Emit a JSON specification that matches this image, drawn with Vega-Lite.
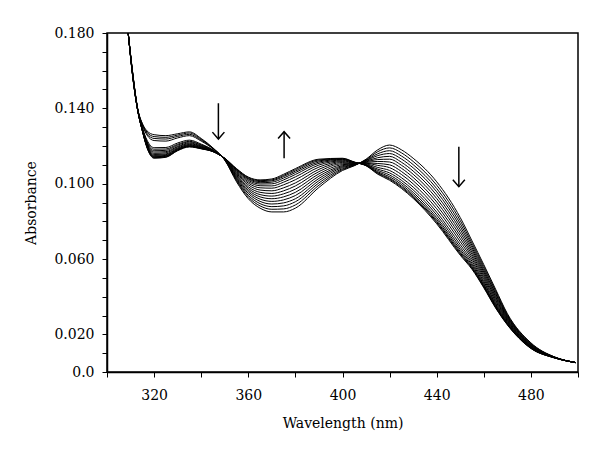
{
"$schema": "https://vega.github.io/schema/vega-lite/v6.json",
"autosize": "none",
"width": 471,
"height": 339,
"padding": {"left": 107, "top": 33, "right": 22, "bottom": 85},
"background": "white",
"config": {
  "view": {"stroke": "black", "strokeWidth": 1.5},
  "axis": {"domainColor": "black", "domainWidth": 1.5, "tickColor": "black", "tickWidth": 1, "tickSize": 5, "labelFont": "DejaVu Serif", "labelFontSize": 14, "labelColor": "black", "titleFont": "DejaVu Serif", "titleFontSize": 14, "titleFontWeight": "normal", "titleColor": "black", "grid": false, "labelOverlap": false, "labelBound": false, "labelFlush": false}
},
"encoding": {
  "x": {"field": "w", "type": "quantitative", "scale": {"domain": [300, 500], "nice": false, "zero": false},
    "axis": {"title": "Wavelength (nm)", "values": [300, 320, 340, 360, 380, 400, 420, 440, 460, 480, 500], "labelExpr": "datum.value % 40 == 0 ? format(datum.value, 'd') : ''", "labelPadding": 11, "titlePadding": 14}},
  "y": {"field": "a", "type": "quantitative", "scale": {"domain": [0, 0.18], "nice": false, "zero": false},
    "axis": {"title": "Absorbance", "values": [0, 0.01, 0.02, 0.03, 0.04, 0.05, 0.06, 0.07, 0.08, 0.09, 0.1, 0.11, 0.12, 0.13, 0.14, 0.15, 0.16, 0.17, 0.18], "labelExpr": "datum.value == 0 ? '0.0' : (round(datum.value * 1000) % 40 == 20 ? format(datum.value, '.3f') : '')", "labelPadding": 8, "titlePadding": 15}}
},
"layer": [
{
  "data": {"values": [
{"s":1,"w":309,"a":0.18},{"s":2,"w":309,"a":0.18},{"s":3,"w":309,"a":0.18},{"s":4,"w":309,"a":0.18},{"s":5,"w":309,"a":0.18},{"s":6,"w":309,"a":0.18},{"s":7,"w":309,"a":0.18},{"s":8,"w":309,"a":0.18},{"s":9,"w":309,"a":0.18},{"s":10,"w":309,"a":0.18},{"s":11,"w":309,"a":0.18},{"s":12,"w":309,"a":0.18},{"s":13,"w":309,"a":0.18},{"s":14,"w":309,"a":0.18},{"s":15,"w":309,"a":0.18},{"s":16,"w":309,"a":0.18},
{"s":1,"w":311,"a":0.158},{"s":2,"w":311,"a":0.1578},{"s":3,"w":311,"a":0.1577},{"s":4,"w":311,"a":0.1575},{"s":5,"w":311,"a":0.1574},{"s":6,"w":311,"a":0.1572},{"s":7,"w":311,"a":0.157},{"s":8,"w":311,"a":0.1569},{"s":9,"w":311,"a":0.1567},{"s":10,"w":311,"a":0.1566},{"s":11,"w":311,"a":0.1564},{"s":12,"w":311,"a":0.1563},{"s":13,"w":311,"a":0.1562},{"s":14,"w":311,"a":0.1561},{"s":15,"w":311,"a":0.1561},{"s":16,"w":311,"a":0.156},
{"s":1,"w":313,"a":0.14},{"s":2,"w":313,"a":0.1399},{"s":3,"w":313,"a":0.1398},{"s":4,"w":313,"a":0.1398},{"s":5,"w":313,"a":0.1397},{"s":6,"w":313,"a":0.1396},{"s":7,"w":313,"a":0.1395},{"s":8,"w":313,"a":0.1394},{"s":9,"w":313,"a":0.1394},{"s":10,"w":313,"a":0.1393},{"s":11,"w":313,"a":0.1392},{"s":12,"w":313,"a":0.1392},{"s":13,"w":313,"a":0.1391},{"s":14,"w":313,"a":0.1391},{"s":15,"w":313,"a":0.139},{"s":16,"w":313,"a":0.139},
{"s":1,"w":315,"a":0.132},{"s":2,"w":315,"a":0.1317},{"s":3,"w":315,"a":0.1314},{"s":4,"w":315,"a":0.131},{"s":5,"w":315,"a":0.1298},{"s":6,"w":315,"a":0.1295},{"s":7,"w":315,"a":0.1293},{"s":8,"w":315,"a":0.129},{"s":9,"w":315,"a":0.1288},{"s":10,"w":315,"a":0.1286},{"s":11,"w":315,"a":0.1285},{"s":12,"w":315,"a":0.1284},{"s":13,"w":315,"a":0.1282},{"s":14,"w":315,"a":0.1282},{"s":15,"w":315,"a":0.1281},{"s":16,"w":315,"a":0.128},
{"s":1,"w":317,"a":0.128},{"s":2,"w":317,"a":0.1273},{"s":3,"w":317,"a":0.1266},{"s":4,"w":317,"a":0.1258},{"s":5,"w":317,"a":0.1231},{"s":6,"w":317,"a":0.1224},{"s":7,"w":317,"a":0.1219},{"s":8,"w":317,"a":0.1213},{"s":9,"w":317,"a":0.1209},{"s":10,"w":317,"a":0.1204},{"s":11,"w":317,"a":0.1201},{"s":12,"w":317,"a":0.1198},{"s":13,"w":317,"a":0.1195},{"s":14,"w":317,"a":0.1194},{"s":15,"w":317,"a":0.1192},{"s":16,"w":317,"a":0.119},
{"s":1,"w":320,"a":0.126},{"s":2,"w":320,"a":0.125},{"s":3,"w":320,"a":0.124},{"s":4,"w":320,"a":0.1229},{"s":5,"w":320,"a":0.1191},{"s":6,"w":320,"a":0.1183},{"s":7,"w":320,"a":0.1175},{"s":8,"w":320,"a":0.1168},{"s":9,"w":320,"a":0.1161},{"s":10,"w":320,"a":0.1155},{"s":11,"w":320,"a":0.115},{"s":12,"w":320,"a":0.1146},{"s":13,"w":320,"a":0.1143},{"s":14,"w":320,"a":0.114},{"s":15,"w":320,"a":0.1138},{"s":16,"w":320,"a":0.1135},
{"s":1,"w":325,"a":0.1255},{"s":2,"w":325,"a":0.1246},{"s":3,"w":325,"a":0.1237},{"s":4,"w":325,"a":0.1226},{"s":5,"w":325,"a":0.1192},{"s":6,"w":325,"a":0.1184},{"s":7,"w":325,"a":0.1177},{"s":8,"w":325,"a":0.117},{"s":9,"w":325,"a":0.1164},{"s":10,"w":325,"a":0.1158},{"s":11,"w":325,"a":0.1154},{"s":12,"w":325,"a":0.115},{"s":13,"w":325,"a":0.1147},{"s":14,"w":325,"a":0.1145},{"s":15,"w":325,"a":0.1142},{"s":16,"w":325,"a":0.114},
{"s":1,"w":330,"a":0.1265},{"s":2,"w":330,"a":0.1258},{"s":3,"w":330,"a":0.1251},{"s":4,"w":330,"a":0.1243},{"s":5,"w":330,"a":0.1216},{"s":6,"w":330,"a":0.1209},{"s":7,"w":330,"a":0.1204},{"s":8,"w":330,"a":0.1198},{"s":9,"w":330,"a":0.1194},{"s":10,"w":330,"a":0.1189},{"s":11,"w":330,"a":0.1186},{"s":12,"w":330,"a":0.1183},{"s":13,"w":330,"a":0.118},{"s":14,"w":330,"a":0.1179},{"s":15,"w":330,"a":0.1177},{"s":16,"w":330,"a":0.1175},
{"s":1,"w":335,"a":0.1275},{"s":2,"w":335,"a":0.1269},{"s":3,"w":335,"a":0.1262},{"s":4,"w":335,"a":0.1255},{"s":5,"w":335,"a":0.1231},{"s":6,"w":335,"a":0.1225},{"s":7,"w":335,"a":0.1221},{"s":8,"w":335,"a":0.1216},{"s":9,"w":335,"a":0.1212},{"s":10,"w":335,"a":0.1208},{"s":11,"w":335,"a":0.1205},{"s":12,"w":335,"a":0.1202},{"s":13,"w":335,"a":0.12},{"s":14,"w":335,"a":0.1198},{"s":15,"w":335,"a":0.1197},{"s":16,"w":335,"a":0.1195},
{"s":1,"w":340,"a":0.124},{"s":2,"w":340,"a":0.1236},{"s":3,"w":340,"a":0.1231},{"s":4,"w":340,"a":0.1226},{"s":5,"w":340,"a":0.121},{"s":6,"w":340,"a":0.1206},{"s":7,"w":340,"a":0.1203},{"s":8,"w":340,"a":0.1199},{"s":9,"w":340,"a":0.1197},{"s":10,"w":340,"a":0.1194},{"s":11,"w":340,"a":0.1192},{"s":12,"w":340,"a":0.119},{"s":13,"w":340,"a":0.1188},{"s":14,"w":340,"a":0.1187},{"s":15,"w":340,"a":0.1186},{"s":16,"w":340,"a":0.1185},
{"s":1,"w":345,"a":0.119},{"s":2,"w":345,"a":0.1188},{"s":3,"w":345,"a":0.1187},{"s":4,"w":345,"a":0.1185},{"s":5,"w":345,"a":0.1179},{"s":6,"w":345,"a":0.1178},{"s":7,"w":345,"a":0.1176},{"s":8,"w":345,"a":0.1175},{"s":9,"w":345,"a":0.1174},{"s":10,"w":345,"a":0.1173},{"s":11,"w":345,"a":0.1172},{"s":12,"w":345,"a":0.1172},{"s":13,"w":345,"a":0.1171},{"s":14,"w":345,"a":0.1171},{"s":15,"w":345,"a":0.117},{"s":16,"w":345,"a":0.117},
{"s":1,"w":350,"a":0.1125},{"s":2,"w":350,"a":0.1126},{"s":3,"w":350,"a":0.1127},{"s":4,"w":350,"a":0.1127},{"s":5,"w":350,"a":0.1128},{"s":6,"w":350,"a":0.1129},{"s":7,"w":350,"a":0.113},{"s":8,"w":350,"a":0.1131},{"s":9,"w":350,"a":0.1131},{"s":10,"w":350,"a":0.1132},{"s":11,"w":350,"a":0.1133},{"s":12,"w":350,"a":0.1134},{"s":13,"w":350,"a":0.1134},{"s":14,"w":350,"a":0.1134},{"s":15,"w":350,"a":0.1135},{"s":16,"w":350,"a":0.1135},
{"s":1,"w":355,"a":0.101},{"s":2,"w":355,"a":0.1016},{"s":3,"w":355,"a":0.1021},{"s":4,"w":355,"a":0.1027},{"s":5,"w":355,"a":0.1032},{"s":6,"w":355,"a":0.1038},{"s":7,"w":355,"a":0.1044},{"s":8,"w":355,"a":0.1049},{"s":9,"w":355,"a":0.1055},{"s":10,"w":355,"a":0.106},{"s":11,"w":355,"a":0.1065},{"s":12,"w":355,"a":0.107},{"s":13,"w":355,"a":0.1073},{"s":14,"w":355,"a":0.1076},{"s":15,"w":355,"a":0.1078},{"s":16,"w":355,"a":0.108},
{"s":1,"w":360,"a":0.092},{"s":2,"w":360,"a":0.0929},{"s":3,"w":360,"a":0.0938},{"s":4,"w":360,"a":0.0948},{"s":5,"w":360,"a":0.0957},{"s":6,"w":360,"a":0.0966},{"s":7,"w":360,"a":0.0975},{"s":8,"w":360,"a":0.0984},{"s":9,"w":360,"a":0.0994},{"s":10,"w":360,"a":0.1003},{"s":11,"w":360,"a":0.1011},{"s":12,"w":360,"a":0.1018},{"s":13,"w":360,"a":0.1024},{"s":14,"w":360,"a":0.1028},{"s":15,"w":360,"a":0.1032},{"s":16,"w":360,"a":0.1035},
{"s":1,"w":365,"a":0.087},{"s":2,"w":365,"a":0.0882},{"s":3,"w":365,"a":0.0894},{"s":4,"w":365,"a":0.0906},{"s":5,"w":365,"a":0.0918},{"s":6,"w":365,"a":0.093},{"s":7,"w":365,"a":0.0942},{"s":8,"w":365,"a":0.0954},{"s":9,"w":365,"a":0.0966},{"s":10,"w":365,"a":0.0978},{"s":11,"w":365,"a":0.0989},{"s":12,"w":365,"a":0.0998},{"s":13,"w":365,"a":0.1005},{"s":14,"w":365,"a":0.1011},{"s":15,"w":365,"a":0.1016},{"s":16,"w":365,"a":0.102},
{"s":1,"w":370,"a":0.085},{"s":2,"w":370,"a":0.0864},{"s":3,"w":370,"a":0.0878},{"s":4,"w":370,"a":0.0892},{"s":5,"w":370,"a":0.0906},{"s":6,"w":370,"a":0.092},{"s":7,"w":370,"a":0.0934},{"s":8,"w":370,"a":0.0948},{"s":9,"w":370,"a":0.0962},{"s":10,"w":370,"a":0.0976},{"s":11,"w":370,"a":0.0988},{"s":12,"w":370,"a":0.0999},{"s":13,"w":370,"a":0.1008},{"s":14,"w":370,"a":0.1015},{"s":15,"w":370,"a":0.102},{"s":16,"w":370,"a":0.1025},
{"s":1,"w":375,"a":0.085},{"s":2,"w":375,"a":0.0866},{"s":3,"w":375,"a":0.0882},{"s":4,"w":375,"a":0.0898},{"s":5,"w":375,"a":0.0914},{"s":6,"w":375,"a":0.093},{"s":7,"w":375,"a":0.0946},{"s":8,"w":375,"a":0.0962},{"s":9,"w":375,"a":0.0978},{"s":10,"w":375,"a":0.0994},{"s":11,"w":375,"a":0.1008},{"s":12,"w":375,"a":0.102},{"s":13,"w":375,"a":0.103},{"s":14,"w":375,"a":0.1038},{"s":15,"w":375,"a":0.1044},{"s":16,"w":375,"a":0.105},
{"s":1,"w":380,"a":0.087},{"s":2,"w":380,"a":0.0887},{"s":3,"w":380,"a":0.0904},{"s":4,"w":380,"a":0.092},{"s":5,"w":380,"a":0.0937},{"s":6,"w":380,"a":0.0954},{"s":7,"w":380,"a":0.0971},{"s":8,"w":380,"a":0.0988},{"s":9,"w":380,"a":0.1004},{"s":10,"w":380,"a":0.1021},{"s":11,"w":380,"a":0.1036},{"s":12,"w":380,"a":0.1049},{"s":13,"w":380,"a":0.1059},{"s":14,"w":380,"a":0.1067},{"s":15,"w":380,"a":0.1074},{"s":16,"w":380,"a":0.108},
{"s":1,"w":390,"a":0.098},{"s":2,"w":390,"a":0.0992},{"s":3,"w":390,"a":0.1004},{"s":4,"w":390,"a":0.1016},{"s":5,"w":390,"a":0.1028},{"s":6,"w":390,"a":0.104},{"s":7,"w":390,"a":0.1052},{"s":8,"w":390,"a":0.1064},{"s":9,"w":390,"a":0.1076},{"s":10,"w":390,"a":0.1088},{"s":11,"w":390,"a":0.1099},{"s":12,"w":390,"a":0.1108},{"s":13,"w":390,"a":0.1115},{"s":14,"w":390,"a":0.1121},{"s":15,"w":390,"a":0.1126},{"s":16,"w":390,"a":0.113},
{"s":1,"w":400,"a":0.107},{"s":2,"w":400,"a":0.1075},{"s":3,"w":400,"a":0.108},{"s":4,"w":400,"a":0.1086},{"s":5,"w":400,"a":0.1091},{"s":6,"w":400,"a":0.1096},{"s":7,"w":400,"a":0.1101},{"s":8,"w":400,"a":0.1106},{"s":9,"w":400,"a":0.1112},{"s":10,"w":400,"a":0.1117},{"s":11,"w":400,"a":0.1121},{"s":12,"w":400,"a":0.1125},{"s":13,"w":400,"a":0.1129},{"s":14,"w":400,"a":0.1131},{"s":15,"w":400,"a":0.1133},{"s":16,"w":400,"a":0.1135},
{"s":1,"w":405,"a":0.1095},{"s":2,"w":405,"a":0.1097},{"s":3,"w":405,"a":0.1098},{"s":4,"w":405,"a":0.11},{"s":5,"w":405,"a":0.1101},{"s":6,"w":405,"a":0.1103},{"s":7,"w":405,"a":0.1105},{"s":8,"w":405,"a":0.1106},{"s":9,"w":405,"a":0.1108},{"s":10,"w":405,"a":0.1109},{"s":11,"w":405,"a":0.1111},{"s":12,"w":405,"a":0.1112},{"s":13,"w":405,"a":0.1113},{"s":14,"w":405,"a":0.1114},{"s":15,"w":405,"a":0.1114},{"s":16,"w":405,"a":0.1115},
{"s":1,"w":410,"a":0.113},{"s":2,"w":410,"a":0.1127},{"s":3,"w":410,"a":0.1124},{"s":4,"w":410,"a":0.1122},{"s":5,"w":410,"a":0.1119},{"s":6,"w":410,"a":0.1116},{"s":7,"w":410,"a":0.1113},{"s":8,"w":410,"a":0.111},{"s":9,"w":410,"a":0.1108},{"s":10,"w":410,"a":0.1105},{"s":11,"w":410,"a":0.1102},{"s":12,"w":410,"a":0.11},{"s":13,"w":410,"a":0.1099},{"s":14,"w":410,"a":0.1097},{"s":15,"w":410,"a":0.1096},{"s":16,"w":410,"a":0.1095},
{"s":1,"w":415,"a":0.118},{"s":2,"w":415,"a":0.117},{"s":3,"w":415,"a":0.1159},{"s":4,"w":415,"a":0.1149},{"s":5,"w":415,"a":0.1138},{"s":6,"w":415,"a":0.1128},{"s":7,"w":415,"a":0.1118},{"s":8,"w":415,"a":0.1107},{"s":9,"w":415,"a":0.1097},{"s":10,"w":415,"a":0.1086},{"s":11,"w":415,"a":0.1077},{"s":12,"w":415,"a":0.107},{"s":13,"w":415,"a":0.1063},{"s":14,"w":415,"a":0.1058},{"s":15,"w":415,"a":0.1054},{"s":16,"w":415,"a":0.105},
{"s":1,"w":420,"a":0.1205},{"s":2,"w":420,"a":0.119},{"s":3,"w":420,"a":0.1175},{"s":4,"w":420,"a":0.116},{"s":5,"w":420,"a":0.1145},{"s":6,"w":420,"a":0.113},{"s":7,"w":420,"a":0.1115},{"s":8,"w":420,"a":0.11},{"s":9,"w":420,"a":0.1085},{"s":10,"w":420,"a":0.107},{"s":11,"w":420,"a":0.1057},{"s":12,"w":420,"a":0.1046},{"s":13,"w":420,"a":0.1037},{"s":14,"w":420,"a":0.1029},{"s":15,"w":420,"a":0.1024},{"s":16,"w":420,"a":0.1018},
{"s":1,"w":425,"a":0.118},{"s":2,"w":425,"a":0.1164},{"s":3,"w":425,"a":0.1147},{"s":4,"w":425,"a":0.1131},{"s":5,"w":425,"a":0.1114},{"s":6,"w":425,"a":0.1098},{"s":7,"w":425,"a":0.1082},{"s":8,"w":425,"a":0.1065},{"s":9,"w":425,"a":0.1049},{"s":10,"w":425,"a":0.1032},{"s":11,"w":425,"a":0.1018},{"s":12,"w":425,"a":0.1006},{"s":13,"w":425,"a":0.0996},{"s":14,"w":425,"a":0.0987},{"s":15,"w":425,"a":0.0981},{"s":16,"w":425,"a":0.0975},
{"s":1,"w":430,"a":0.1135},{"s":2,"w":430,"a":0.1118},{"s":3,"w":430,"a":0.1101},{"s":4,"w":430,"a":0.1084},{"s":5,"w":430,"a":0.1067},{"s":6,"w":430,"a":0.105},{"s":7,"w":430,"a":0.1033},{"s":8,"w":430,"a":0.1016},{"s":9,"w":430,"a":0.0999},{"s":10,"w":430,"a":0.0982},{"s":11,"w":430,"a":0.0967},{"s":12,"w":430,"a":0.0954},{"s":13,"w":430,"a":0.0943},{"s":14,"w":430,"a":0.0935},{"s":15,"w":430,"a":0.0928},{"s":16,"w":430,"a":0.0922},
{"s":1,"w":440,"a":0.101},{"s":2,"w":440,"a":0.0992},{"s":3,"w":440,"a":0.0974},{"s":4,"w":440,"a":0.0957},{"s":5,"w":440,"a":0.0939},{"s":6,"w":440,"a":0.0921},{"s":7,"w":440,"a":0.0903},{"s":8,"w":440,"a":0.0885},{"s":9,"w":440,"a":0.0867},{"s":10,"w":440,"a":0.0849},{"s":11,"w":440,"a":0.0834},{"s":12,"w":440,"a":0.082},{"s":13,"w":440,"a":0.0809},{"s":14,"w":440,"a":0.08},{"s":15,"w":440,"a":0.0794},{"s":16,"w":440,"a":0.0787},
{"s":1,"w":450,"a":0.082},{"s":2,"w":450,"a":0.0804},{"s":3,"w":450,"a":0.0788},{"s":4,"w":450,"a":0.0772},{"s":5,"w":450,"a":0.0756},{"s":6,"w":450,"a":0.074},{"s":7,"w":450,"a":0.0724},{"s":8,"w":450,"a":0.0708},{"s":9,"w":450,"a":0.0692},{"s":10,"w":450,"a":0.0676},{"s":11,"w":450,"a":0.0662},{"s":12,"w":450,"a":0.065},{"s":13,"w":450,"a":0.064},{"s":14,"w":450,"a":0.0632},{"s":15,"w":450,"a":0.0626},{"s":16,"w":450,"a":0.062},
{"s":1,"w":455,"a":0.0696},{"s":2,"w":455,"a":0.0684},{"s":3,"w":455,"a":0.0672},{"s":4,"w":455,"a":0.066},{"s":5,"w":455,"a":0.0648},{"s":6,"w":455,"a":0.0636},{"s":7,"w":455,"a":0.0624},{"s":8,"w":455,"a":0.0612},{"s":9,"w":455,"a":0.06},{"s":10,"w":455,"a":0.0588},{"s":11,"w":455,"a":0.0577},{"s":12,"w":455,"a":0.0568},{"s":13,"w":455,"a":0.056},{"s":14,"w":455,"a":0.0554},{"s":15,"w":455,"a":0.055},{"s":16,"w":455,"a":0.0545},
{"s":1,"w":460,"a":0.057},{"s":2,"w":460,"a":0.056},{"s":3,"w":460,"a":0.055},{"s":4,"w":460,"a":0.054},{"s":5,"w":460,"a":0.0531},{"s":6,"w":460,"a":0.0521},{"s":7,"w":460,"a":0.0511},{"s":8,"w":460,"a":0.0501},{"s":9,"w":460,"a":0.0491},{"s":10,"w":460,"a":0.0481},{"s":11,"w":460,"a":0.0473},{"s":12,"w":460,"a":0.0465},{"s":13,"w":460,"a":0.0459},{"s":14,"w":460,"a":0.0454},{"s":15,"w":460,"a":0.0451},{"s":16,"w":460,"a":0.0447},
{"s":1,"w":465,"a":0.044},{"s":2,"w":465,"a":0.0432},{"s":3,"w":465,"a":0.0424},{"s":4,"w":465,"a":0.0416},{"s":5,"w":465,"a":0.0408},{"s":6,"w":465,"a":0.04},{"s":7,"w":465,"a":0.0392},{"s":8,"w":465,"a":0.0384},{"s":9,"w":465,"a":0.0376},{"s":10,"w":465,"a":0.0368},{"s":11,"w":465,"a":0.0361},{"s":12,"w":465,"a":0.0355},{"s":13,"w":465,"a":0.035},{"s":14,"w":465,"a":0.0346},{"s":15,"w":465,"a":0.0343},{"s":16,"w":465,"a":0.034},
{"s":1,"w":470,"a":0.031},{"s":2,"w":470,"a":0.0305},{"s":3,"w":470,"a":0.03},{"s":4,"w":470,"a":0.0296},{"s":5,"w":470,"a":0.0291},{"s":6,"w":470,"a":0.0286},{"s":7,"w":470,"a":0.0281},{"s":8,"w":470,"a":0.0276},{"s":9,"w":470,"a":0.0272},{"s":10,"w":470,"a":0.0267},{"s":11,"w":470,"a":0.0263},{"s":12,"w":470,"a":0.0259},{"s":13,"w":470,"a":0.0256},{"s":14,"w":470,"a":0.0254},{"s":15,"w":470,"a":0.0252},{"s":16,"w":470,"a":0.025},
{"s":1,"w":480,"a":0.0155},{"s":2,"w":480,"a":0.0152},{"s":3,"w":480,"a":0.0149},{"s":4,"w":480,"a":0.0147},{"s":5,"w":480,"a":0.0144},{"s":6,"w":480,"a":0.0142},{"s":7,"w":480,"a":0.0139},{"s":8,"w":480,"a":0.0137},{"s":9,"w":480,"a":0.0135},{"s":10,"w":480,"a":0.0133},{"s":11,"w":480,"a":0.0131},{"s":12,"w":480,"a":0.0129},{"s":13,"w":480,"a":0.0128},{"s":14,"w":480,"a":0.0127},{"s":15,"w":480,"a":0.0126},{"s":16,"w":480,"a":0.0125},
{"s":1,"w":490,"a":0.008},{"s":2,"w":490,"a":0.008},{"s":3,"w":490,"a":0.0079},{"s":4,"w":490,"a":0.0079},{"s":5,"w":490,"a":0.0078},{"s":6,"w":490,"a":0.0078},{"s":7,"w":490,"a":0.0078},{"s":8,"w":490,"a":0.0077},{"s":9,"w":490,"a":0.0077},{"s":10,"w":490,"a":0.0076},{"s":11,"w":490,"a":0.0076},{"s":12,"w":490,"a":0.0076},{"s":13,"w":490,"a":0.0076},{"s":14,"w":490,"a":0.0075},{"s":15,"w":490,"a":0.0075},{"s":16,"w":490,"a":0.0075},
{"s":1,"w":499,"a":0.005},{"s":2,"w":499,"a":0.005},{"s":3,"w":499,"a":0.005},{"s":4,"w":499,"a":0.005},{"s":5,"w":499,"a":0.005},{"s":6,"w":499,"a":0.005},{"s":7,"w":499,"a":0.005},{"s":8,"w":499,"a":0.005},{"s":9,"w":499,"a":0.005},{"s":10,"w":499,"a":0.005},{"s":11,"w":499,"a":0.005},{"s":12,"w":499,"a":0.005},{"s":13,"w":499,"a":0.005},{"s":14,"w":499,"a":0.005},{"s":15,"w":499,"a":0.005},{"s":16,"w":499,"a":0.005}
  ]},
  "mark": {"type": "line", "color": "black", "strokeWidth": 1, "interpolate": "monotone", "clip": true},
  "encoding": {
    "detail": {"field": "s", "type": "nominal"}
  }
},
{
  "data": {"values": [
    {"w": 347.3, "a": 0.1427, "a2": 0.1237},
    {"w": 375.2, "a": 0.1276, "a2": 0.1135},
    {"w": 449.4, "a": 0.1196, "a2": 0.0984}
  ]},
  "mark": {"type": "rule", "color": "black", "strokeWidth": 1.5},
  "encoding": {
    "y2": {"field": "a2"}
  }
},
{
  "data": {"values": [
    {"w": 347.3, "a": 0.1237, "d": "down"},
    {"w": 375.2, "a": 0.1276, "d": "up"},
    {"w": 449.4, "a": 0.0984, "d": "down"}
  ]},
  "mark": {"type": "point", "filled": false, "stroke": "black", "strokeWidth": 1.5, "size": 144, "opacity": 1},
  "encoding": {
    "shape": {"field": "d", "type": "nominal", "scale": {"domain": ["down", "up"], "range": ["M-1,-1.15L0,0L1,-1.15", "M-1,1.15L0,0L1,1.15"]}, "legend": null}
  }
}
]
}
